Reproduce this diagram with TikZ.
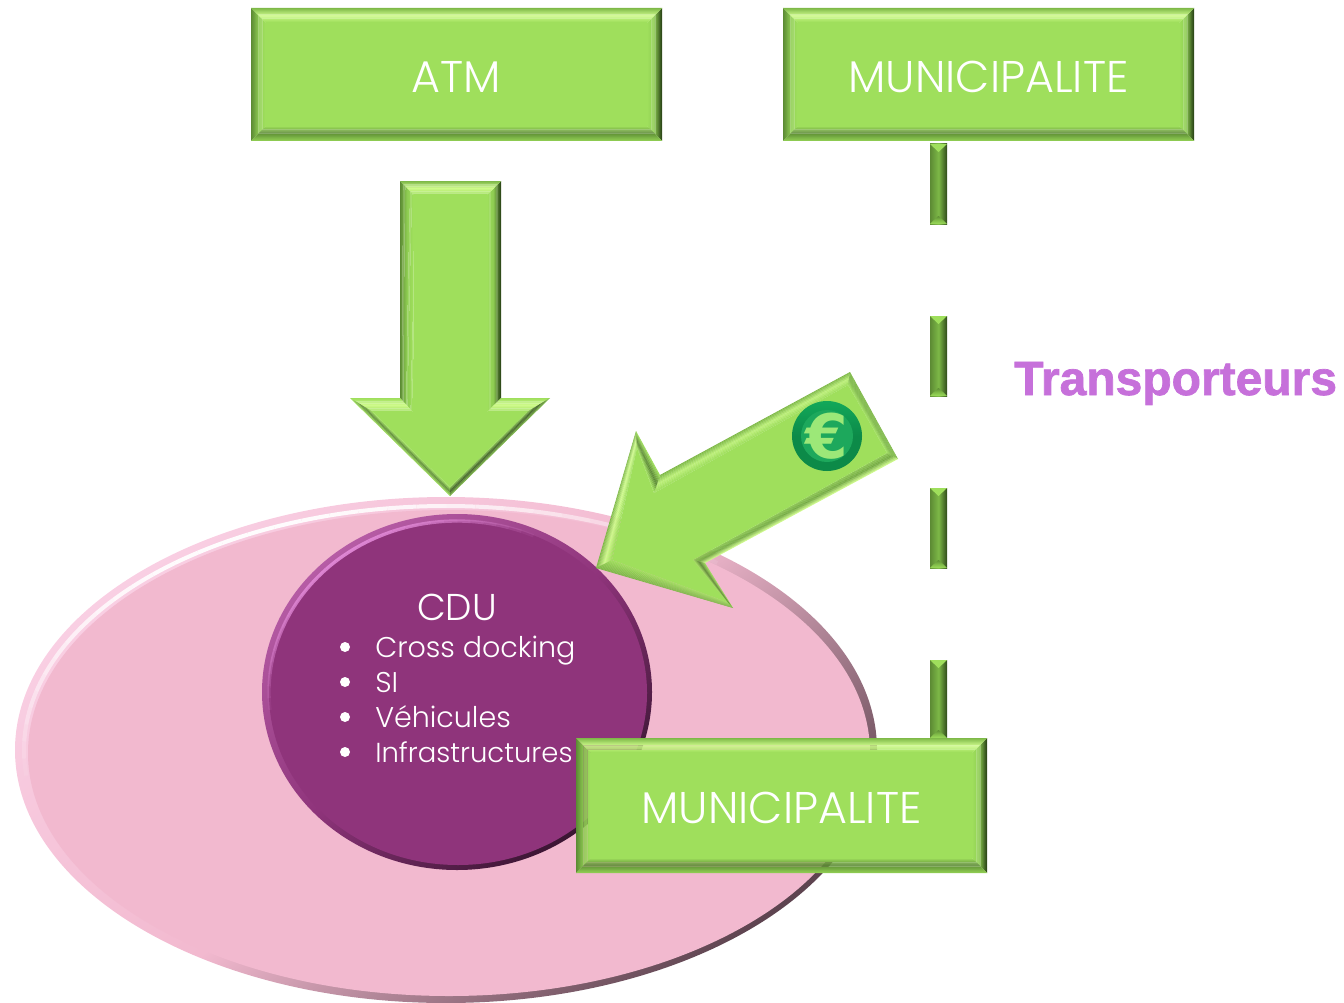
\documentclass[tikz,border=0pt]{standalone}
\usepackage{fontspec}
\usetikzlibrary{calc}
\setmainfont{Poppins Light}
\newfontfamily\transfont[FakeBold=1.5]{Liberation Sans Bold}
\newfontfamily\eurofont{DejaVu Sans Bold}
\definecolor{gbody}{HTML}{9FDF5C}
\definecolor{glite}{HTML}{CFFB8C}
\definecolor{gmid}{HTML}{7DB847}
\definecolor{gsoft}{HTML}{8ECC52}
\definecolor{gdark}{HTML}{5C8A34}
\definecolor{gdeep}{HTML}{2F4A1A}
\definecolor{pinkbody}{HTML}{F2B9CF}
\definecolor{pinklite}{HTML}{F9CFE3}
\definecolor{pinkdark}{HTML}{5E4450}
\definecolor{plum}{HTML}{8F347B}
\definecolor{plumlite}{HTML}{B65CA5}
\definecolor{plumdark}{HTML}{3A1532}
\definecolor{plumhigh}{HTML}{E38BD9}
\definecolor{eurodark}{HTML}{0C8A48}
\definecolor{euromid}{HTML}{12A85A}
\definecolor{euroin}{HTML}{1DA85C}
\definecolor{eurolite}{HTML}{9CE878}
\definecolor{transp}{HTML}{C670DA}
% bevel face in strips: A B (outer edge) C D (inner edge, C under B, D under A), outer, middle, inner colour
\newcommand{\face}[7]{%
  \foreach \i in {0,...,15}{%
    \pgfmathsetmacro{\ta}{\i/16}%
    \pgfmathsetmacro{\tb}{min(1,(\i+1.2)/16)}%
    \ifnum\i<8
      \pgfmathtruncatemacro{\p}{\i*100/8}%
      \colorlet{stripcol}{#6!\p!#5}%
    \else
      \pgfmathtruncatemacro{\p}{(\i-8)*100/7}%
      \colorlet{stripcol}{#7!\p!#6}%
    \fi
    \fill[stripcol] ($(#1)!\ta!(#4)$) -- ($(#2)!\ta!(#3)$) -- ($(#2)!\tb!(#3)$) -- ($(#1)!\tb!(#4)$) -- cycle;
  }%
}
\newcommand{\bevelbox}[6]{% x0 y0 x1 y1 name text
  \face{#3,#2}{#3,#4}{{#3-15},{#4-15}}{{#3-15},{#2+15}}{gdeep}{gsoft}{gbody}
  \face{#1,#2}{#1,#4}{{#1+15},{#4-15}}{{#1+15},{#2+15}}{gdark}{gsoft}{gbody}
  \face{#1,#2}{#3,#2}{{#3-15},{#2+15}}{{#1+15},{#2+15}}{gmid}{glite}{gbody}
  \face{#1,#4}{#3,#4}{{#3-15},{#4-15}}{{#1+15},{#4-15}}{gsoft}{gdark}{gbody}
  \fill[gbody] ({#1+15},{#2+15}) rectangle ({#3-15},{#4-15});
  \node[lbl] (#5) at ({(#1+#3)/2},{(#2+#4)/2+2}) {#6};
}
\newcommand{\dashseg}[2]{% y0 y1
  \shade[left color=gdark,right color=gdeep,middle color=gmid] (930,#1) rectangle (947,#2);
  \fill[gbody] (930,#1) -- (947,#1) -- (938.5,{#1+8}) -- cycle;
  \face{930,#2}{947,#2}{938.5,{#2-8}}{938.5,{#2-8}}{gbody}{gmid}{gdark}
}
\tikzset{lbl/.style={text=white,font=\fontsize{33.3}{38}\selectfont,inner sep=0pt},
 cdutext/.style={text=white,font=\fontsize{28}{32}\selectfont,inner sep=0pt},
 itemtext/.style={text=white,font=\fontsize{21.4}{26}\selectfont,anchor=base west,inner sep=0pt},
 dotmark/.style={circle,fill=white,inner sep=0pt,minimum size=7.5}}
\begin{document}
\begin{tikzpicture}[x=0.75pt,y=-0.75pt]
\useasboundingbox (0,0) rectangle (1344,1002);
\clip (0,0) rectangle (1344,1002);
% big ellipse
\shade[top color=pinklite,bottom color=pinkdark,middle color=pinkbody,shading angle=40] (446,750) ellipse [x radius=431,y radius=253];
\fill[pinkbody] (449,753) ellipse [x radius=421,y radius=243];
\foreach \a in {170,174,...,306}{
  \pgfmathsetmacro{\op}{0.95*sin((\a-170)/140*180)}
  \draw[white,line width=3,opacity=\op] ({446+422*cos(\a)},{750+244*sin(\a)}) arc [start angle=\a,end angle=\a+4,x radius=422,y radius=244];
}
% CDU circle
\shade[top color=plumlite,bottom color=plumdark,middle color=plum,shading angle=40] (457,692) ellipse [x radius=195,y radius=178];
\fill[plum] (458,693) ellipse [x radius=189,y radius=172];
\foreach \a in {170,174,...,290}{
  \pgfmathsetmacro{\op}{0.9*sin((\a-170)/124*180)}
  \draw[plumhigh,line width=2.5,opacity=\op] ({457+188*cos(\a)},{692+171*sin(\a)}) arc [start angle=\a,end angle=\a+4,x radius=188,y radius=171];
}
\node[cdutext] (cdu) at (457,607) {CDU};
\node[itemtext] (i1) at (375,657) {Cross docking};
\node[itemtext] (i2) at (375,692) {SI};
\node[itemtext] (i3) at (375,727) {Véhicules};
\node[itemtext,font=\fontsize{20.6}{26}\selectfont] (i4) at (375,762) {Infrastructures};
\node[dotmark] (d1) at (345,647) {};
\node[dotmark] (d2) at (345,682) {};
\node[dotmark] (d3) at (345,717) {};
\node[dotmark] (d4) at (345,752) {};
% vertical arrow
\face{400,181}{400,398}{413,412}{414,195}{gdark}{gsoft}{gbody}
\face{501,181}{501,398}{487,412}{487,195}{gdeep}{gsoft}{gbody}
\face{400,181}{501,181}{487,195}{414,195}{gmid}{glite}{gbody}
\face{350,398}{400,398}{413,412}{373,412}{gbody}{glite}{gbody}
\face{501,398}{550,398}{527,412}{487,412}{gbody}{glite}{gbody}
\face{350,398}{450,496}{450,487}{373,412}{gbody}{gdark}{gbody}
\face{550,398}{450,496}{450,487}{527,412}{gmid}{gdeep!70!gdark}{gbody}
\fill[gbody] (414,195) -- (487,195) -- (487,412) -- (527,412) -- (450,487) -- (373,412) -- (413,412) -- cycle;
% tilted arrow
\face{660,475}{850,372}{848,385}{654,493}{gmid}{glite!60!gbody}{gbody}
\face{850,372}{898,459}{887,453}{848,385}{gmid}{gmid}{gbody}
\face{898,459}{705,563}{693,560}{887,453}{glite}{gmid!70!gdark}{gbody}
\face{596,568}{636,431}{637,448}{612,560}{gmid}{glite}{gbody}
\face{636,431}{660,475}{654,493}{637,448}{gbody}{gdark}{gbody}
\face{705,563}{733,608}{727,602}{693,560}{gbody}{gdark}{gbody}
\face{596,568}{733,608}{727,602}{612,560}{gmid}{gsoft}{gbody}
\fill[gbody] (848,385) -- (887,453) -- (693,560) -- (727,602) -- (612,560) -- (637,448) -- (654,493) -- cycle;
% euro badge
\shade[top color=euromid,bottom color=eurodark,middle color=eurodark] (827,436) circle [radius=35];
\fill[euroin] (827,436) circle [radius=26];
\node[inner sep=0pt,text=eurolite,font=\eurofont\fontsize{46}{50}\selectfont] (euro) at (827,436) {€};
% dashes
\dashseg{144}{224}
\dashseg{316}{396}
\dashseg{488}{568}
\dashseg{660}{738}
% boxes
\bevelbox{251}{8}{662}{141}{atm}{ATM}
\bevelbox{783}{8}{1194}{141}{mun1}{MUNICIPALITE}
\bevelbox{576}{738}{987}{873}{mun2}{MUNICIPALITE}
% label
\node[inner sep=0pt,anchor=base west,text=transp,font=\transfont\fontsize{36}{40}\selectfont] (tr) at (1014,395) {Transporteurs};
\end{tikzpicture}
\end{document}
